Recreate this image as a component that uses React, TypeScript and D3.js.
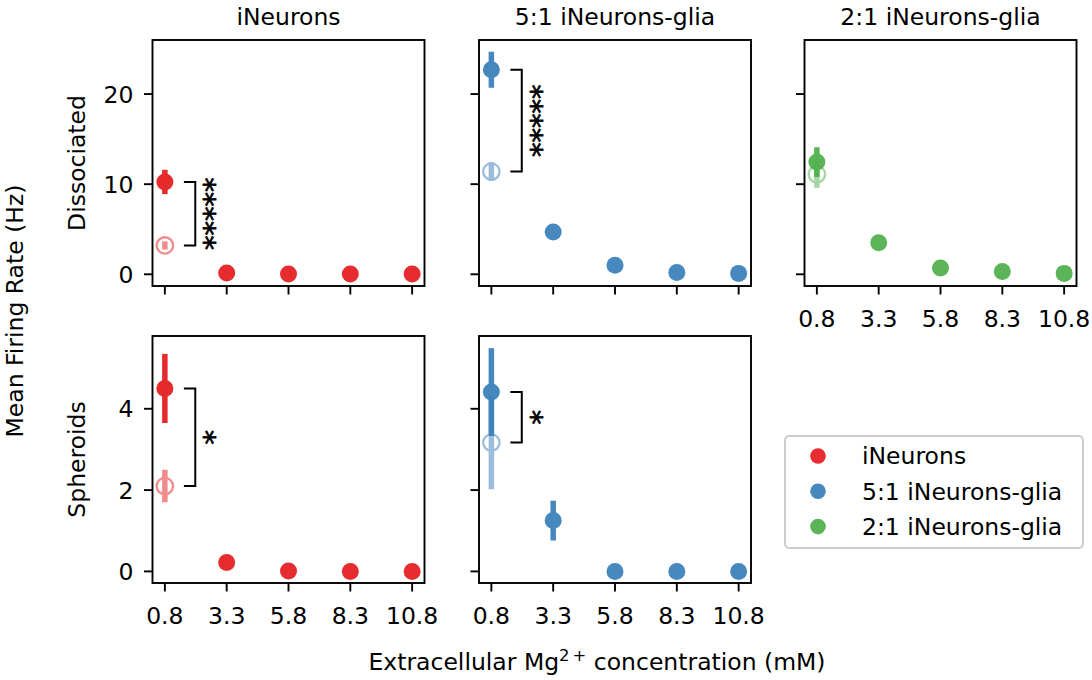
import React from "react";
import * as d3 from "d3";

const conc = [0.8, 3.3, 5.8, 8.3, 10.8];
const xTickLabels = ["0.8", "3.3", "5.8", "8.3", "10.8"];
const groups = ["iNeurons", "5:1 iNeurons-glia", "2:1 iNeurons-glia"];
const colors = ["#e41a1c", "#377eb8", "#4daf4a"];
const rowNames = ["Dissociated", "Spheroids"];

// Dissociated: means and error half-widths after Mg2+ change
const dissINeurons = [10.25, 0.15, 0.02, 0.02, 0.02];
const dissINeuronsErr = [1.35, 0, 0, 0, 0];
const diss51 = [22.7, 4.7, 1.0, 0.2, 0.1];
const diss51Err = [2.0, 0, 0, 0, 0];
const diss21 = [12.45, 3.5, 0.7, 0.3, 0.1];
const diss21Err = [1.65, 0, 0, 0, 0];
// Dissociated baseline (hollow) at 0.8 mM
const dissBase = [3.2, 11.4, 11.1];
const dissBaseErr = [0.45, 1.05, 1.5];

// Spheroids
const sphINeurons = [4.5, 0.22, 0.01, 0.0, 0.0];
const sphINeuronsErr = [0.85, 0, 0, 0, 0];
const sph51 = [4.41, 1.25, 0.0, 0.0, 0.0];
const sph51Err = [1.08, 0.49, 0, 0, 0];
const sphBase = [2.1, 3.17];
const sphBaseErr = [0.4, 1.15];

const dissTicks = [0, 10, 20];
const sphTicks = [0, 2, 4];
const stars = ["*****", "*****", "", "*", "*"];

const FONT = "DejaVu Sans, sans-serif";
const FS = 23.5;

const colLeft = [152.5, 479, 804.5];
const panelW = 272;
const rowTop = [40, 336];
const panelH = [246, 247];
const yDomains: [number, number][] = [[-1.3, 26], [-0.285, 5.79]];

type Panel = {
  row: number;
  col: number;
  mean: number[];
  err: number[];
  base: number;
  baseErr: number;
  star: string;
  showXLabels: boolean;
  showYLabels: boolean;
};

const panels: Panel[] = [
  { row: 0, col: 0, mean: dissINeurons, err: dissINeuronsErr, base: dissBase[0], baseErr: dissBaseErr[0], star: stars[0], showXLabels: false, showYLabels: true },
  { row: 0, col: 1, mean: diss51, err: diss51Err, base: dissBase[1], baseErr: dissBaseErr[1], star: stars[1], showXLabels: false, showYLabels: false },
  { row: 0, col: 2, mean: diss21, err: diss21Err, base: dissBase[2], baseErr: dissBaseErr[2], star: stars[2], showXLabels: true, showYLabels: false },
  { row: 1, col: 0, mean: sphINeurons, err: sphINeuronsErr, base: sphBase[0], baseErr: sphBaseErr[0], star: stars[3], showXLabels: true, showYLabels: true },
  { row: 1, col: 1, mean: sph51, err: sph51Err, base: sphBase[1], baseErr: sphBaseErr[1], star: stars[4], showXLabels: true, showYLabels: false },
];

function PanelView({ p }: { p: Panel }) {
  const x0 = colLeft[p.col];
  const y0 = rowTop[p.row];
  const h = panelH[p.row];
  const x = d3.scaleLinear().domain([0.3, 11.3]).range([x0, x0 + panelW]);
  const y = d3.scaleLinear().domain(yDomains[p.row]).range([y0 + h, y0]);
  const ticks = p.row === 0 ? dissTicks : sphTicks;
  const color = colors[p.col];
  const r = 8.5;
  const ew = 5.5;
  const bx1 = x(1.57);
  const bx2 = x(2.03);
  const yA = y(p.mean[0]);
  const yB = y(p.base);
  const sx = x(2.74);
  const sy = (yA + yB) / 2;
  const starFs = 29;
  return (
    <g>
      {/* baseline hollow marker */}
      <g opacity={0.5}>
        <line x1={x(conc[0])} x2={x(conc[0])} y1={y(p.base - p.baseErr)} y2={y(p.base + p.baseErr)} stroke={color} strokeWidth={ew} />
        <circle cx={x(conc[0])} cy={y(p.base)} r={8.2} fill="none" stroke={color} strokeWidth={2.3} />
      </g>
      {p.mean.map((m, i) => (
        <g key={i} opacity={0.92}>
          {p.err[i] > 0 && (
            <line x1={x(conc[i])} x2={x(conc[i])} y1={y(m - p.err[i])} y2={y(m + p.err[i])} stroke={color} strokeWidth={ew} />
          )}
          <circle cx={x(conc[i])} cy={y(m)} r={r} fill={color} />
        </g>
      ))}
      {p.star && (
        <g>
          <path d={`M${bx1},${yA}H${bx2}V${yB}H${bx1}`} fill="none" stroke="#000" strokeWidth={2} />
          <text
            transform={`translate(${sx},${sy}) rotate(90)`}
            textAnchor="middle"
            dy={0.6 * starFs}
            fontSize={starFs}
            fontFamily={FONT}
            stroke="#000"
            strokeWidth={0.7}
          >
            {p.star}
          </text>
        </g>
      )}
      {/* frame */}
      <rect x={x0} y={y0} width={panelW} height={h} fill="none" stroke="#000" strokeWidth={1.9} />
      {/* x ticks */}
      {conc.map((c, i) => (
        <g key={"xt" + i}>
          <line x1={x(c)} x2={x(c)} y1={y0 + h} y2={y0 + h + 8.5} stroke="#000" strokeWidth={1.9} />
          {p.showXLabels && (
            <text x={x(c)} y={y0 + h + 41} textAnchor="middle" fontSize={FS} fontFamily={FONT}>
              {xTickLabels[i]}
            </text>
          )}
        </g>
      ))}
      {ticks.map((t) => (
        <g key={"yt" + t}>
          <line x1={x0 - 8.5} x2={x0} y1={y(t)} y2={y(t)} stroke="#000" strokeWidth={1.9} />
          {p.showYLabels && (
            <text x={x0 - 19} y={y(t)} dy="0.36em" textAnchor="end" fontSize={FS} fontFamily={FONT}>
              {t}
            </text>
          )}
        </g>
      ))}
    </g>
  );
}

export default function App() {
  const legendX = 785;
  const legendY = 436;
  return (
    <svg width={1092} height={680} style={{ position: "absolute", left: 0, top: 0, background: "#fff" }}>
      <rect width={1092} height={680} fill="#fff" />
      {groups.map((g, i) => (
        <text key={g} x={colLeft[i] + panelW / 2} y={25} textAnchor="middle" fontSize={FS} fontFamily={FONT}>
          {g}
        </text>
      ))}
      {rowNames.map((n, i) => (
        <text
          key={n}
          transform={`translate(${77},${rowTop[i] + panelH[i] / 2}) rotate(-90)`}
          textAnchor="middle"
          dy="0.36em"
          fontSize={FS}
          fontFamily={FONT}
        >
          {n}
        </text>
      ))}
      <text transform={`translate(15,311) rotate(-90)`} textAnchor="middle" dy="0.36em" fontSize={FS} fontFamily={FONT}>
        Mean Firing Rate (Hz)
      </text>
      <text x={597} y={670} textAnchor="middle" fontSize={FS} fontFamily={FONT}>
        Extracellular Mg
        <tspan fontSize={FS * 0.7} dy={-9}>2</tspan>
        <tspan fontSize={FS * 0.7} dx={3}>+</tspan>
        <tspan dy={9}>{"  concentration (mM)"}</tspan>
      </text>
      {panels.map((p, i) => (
        <PanelView key={i} p={p} />
      ))}
      <rect x={legendX} y={legendY} width={298} height={112} rx={4} fill="#fff" stroke="#cccccc" strokeWidth={2} />
      {groups.map((g, i) => (
        <g key={"lg" + g}>
          <circle cx={818} cy={456 + i * 35.3} r={7.8} fill={colors[i]} opacity={0.92} />
          <text x={862} y={456 + i * 35.3} dy="0.36em" fontSize={FS} fontFamily={FONT}>
            {g}
          </text>
        </g>
      ))}
    </svg>
  );
}
